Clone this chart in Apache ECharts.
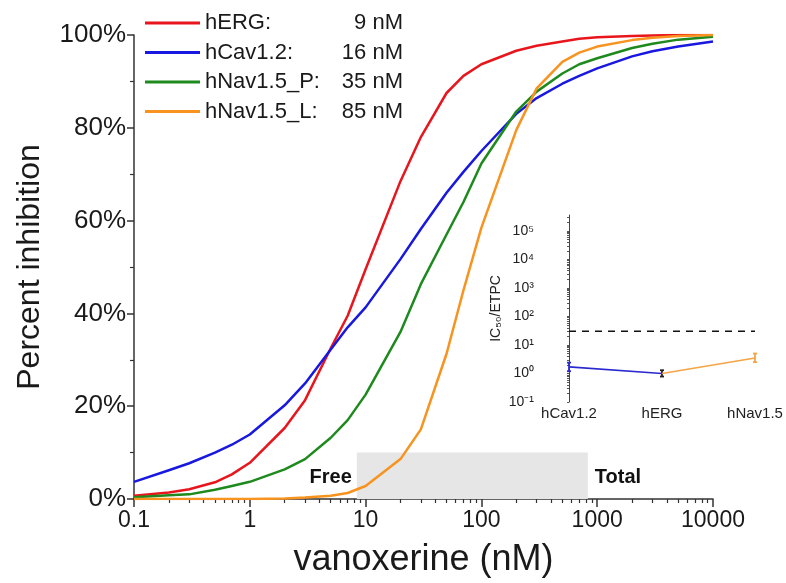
<!DOCTYPE html>
<html><head><meta charset="utf-8">
<script src="https://cdn.jsdelivr.net/npm/echarts@6/dist/echarts.min.js"></script>
<style>html,body{margin:0;padding:0;background:#fff}#c{width:786px;height:583px}</style>
</head><body><div id="c"></div><script>
// ---- data ----
const conc  = [0.1,0.2,0.3,0.5,0.7,1,2,3,5,7,10,20,30,50,70,100,200,300,500,700,1000,2000,3000,5000,10000];
const hERG  = [0.7,1.4,2.1,3.6,5.3,7.8,15.3,21.3,32.5,39.5,49.5,68.5,78,87.5,91.2,93.7,96.6,97.7,98.6,99.2,99.5,99.8,99.9,100,100];
const hCav  = [3.7,6.2,7.7,10.0,11.7,13.9,20.2,24.9,32.2,37.0,41.3,51.7,58.2,66.0,70.5,75,83,86.4,89.5,91.2,92.8,95.4,96.5,97.5,98.6];
const hNavP = [0.4,0.8,1.0,2.0,2.8,3.7,6.4,8.6,13.2,17,22.5,36,46.3,57,64,72.3,83.5,87.8,91.7,93.7,95,97.2,98.1,99.0,99.6];
const hNavL = [0,0,0,0,0,0,0.1,0.3,0.7,1.3,2.8,8.6,15,31.3,45,58.5,79.5,88.5,94.2,96.2,97.5,98.9,99.4,99.8,100];
const seriesNames  = ['hERG','hCav1.2','hNav1.5_P','hNav1.5_L'];
const legendLabels = ['hERG:','hCav1.2:','hNav1.5_P:','hNav1.5_L:'];
const ic50Labels   = ['9 nM','16 nM','35 nM','85 nM'];
const xTicks      = [0.1,1,10,100,1000,10000];
const xTickLabels = ['0.1','1','10','100','1000','10000'];
const concRange   = [8.4, 830];   // shaded Free .. Total range (nM)
const shadeTop    = 10;           // % height of shaded band
const rangeLabelY = 4.7;          // % level of "Free"/"Total" text
// inset
const insetCats  = ['hCav1.2','hERG','hNav1.5'];
const insetPos   = [0, 1, 2];
const insetVals  = [1.7, 1.0, 3.5];
const insetLow   = [1.2, 0.78, 2.5];
const insetHigh  = [2.4, 1.3, 5.0];
const safetyLine = 30;
const insetTicks = [0.1,1,10,100,1000,10000,100000];

// ---- chart ----
const FONT = '"Liberation Sans", Arial, sans-serif';
const colors = ['#e8161c','#1818e0','#1e8a1e','#f7931e'];
const insetBlue = '#2a2ad0', insetOrange = '#f5a446';
const sup = {'-':'⁻','0':'⁰','1':'¹','2':'²','3':'³','4':'⁴','5':'⁵','6':'⁶','7':'⁷','8':'⁸','9':'⁹'};
const near = (a,b)=>Math.abs(Math.log10(a)-Math.log10(b))<1e-6;
const minorTicks = [];
[0.1,1,10,100,1000].forEach(d=>{for(let k=2;k<=9;k++) minorTicks.push(+(d*k).toPrecision(3));});
const insetMinor = [];
[0.1,1,10,100,1000,10000,100000].forEach(d=>{for(let k=1;k<=9;k++){const v=+(d*k).toPrecision(3); if(v<=360000) insetMinor.push(v);}});

const chart = echarts.init(document.getElementById('c'));
const curveSeries = [hERG,hCav,hNavP,hNavL].map((arr,i)=>({
  type:'line', name:seriesNames[i], xAxisIndex:0, yAxisIndex:0, z:3,
  data: conc.map((c,j)=>[c,arr[j]]), showSymbol:false, symbol:'none', smooth:false,
  lineStyle:{width:2.5, color:colors[i], join:'round'}, itemStyle:{color:colors[i]}
}));
const axisCol = '#333';
const option = {
  animation:false, backgroundColor:'#fff',
  textStyle:{fontFamily:FONT},
  grid:[{left:134, top:35, width:579, height:465},
        {left:539, top:215, width:241, height:187}],
  legend:{orient:'vertical', left:140, top:7, itemWidth:55, itemHeight:3, itemGap:7.5, icon:'rect',
    data:seriesNames,
    formatter: n=>{const i=seriesNames.indexOf(n); return '{a|'+legendLabels[i]+'}{b|'+ic50Labels[i]+'}';},
    textStyle:{fontFamily:FONT, color:'#1a1a1a', fontSize:22,
      rich:{a:{fontFamily:FONT,fontSize:22,width:120,lineHeight:22,color:'#1a1a1a'},
            b:{fontFamily:FONT,fontSize:22,width:78,align:'right',lineHeight:22,color:'#1a1a1a'}}}},
  xAxis:[
    {type:'log', logBase:10, min:0.1, max:10000, gridIndex:0, position:'bottom',
     axisLine:{show:true, lineStyle:{color:axisCol, width:1.5}},
     axisTick:{show:true, length:8, customValues:xTicks, lineStyle:{color:axisCol, width:1.5}},
     axisLabel:{customValues:xTicks, fontSize:23, color:'#1a1a1a', margin:10, fontFamily:FONT,
       formatter:v=>{const i=xTicks.findIndex(t=>near(t,v)); return i>=0?xTickLabels[i]:'';}},
     splitLine:{show:false},
     name:'vanoxerine (nM)', nameLocation:'middle', nameGap:43,
     nameTextStyle:{fontSize:36, color:'#1a1a1a', fontFamily:FONT, verticalAlign:'top'}},
    {type:'log', logBase:10, min:0.1, max:10000, gridIndex:0, position:'bottom',
     axisLine:{show:false}, axisLabel:{show:false}, splitLine:{show:false},
     axisTick:{show:true, length:4, customValues:minorTicks, lineStyle:{color:axisCol, width:1.2}}},
    {type:'value', gridIndex:1, min:-0.3226, max:2.269, position:'bottom',
     axisLine:{show:false}, axisTick:{show:false}, splitLine:{show:false},
     axisLabel:{customValues:insetPos, fontSize:15, color:'#222', margin:4, fontFamily:FONT,
       formatter:v=>{const i=insetPos.findIndex(p=>Math.abs(p-v)<1e-6); return i>=0?insetCats[i]:'';}}}
  ],
  yAxis:[
    {type:'value', gridIndex:0, min:0, max:100, interval:20,
     axisLine:{show:true, lineStyle:{color:axisCol, width:1.5}},
     axisTick:{show:true, length:7, lineStyle:{color:axisCol, width:1.5}},
     minorTick:{show:true, splitNumber:2, length:4, lineStyle:{color:axisCol, width:1.2}},
     splitLine:{show:false}, minorSplitLine:{show:false},
     axisLabel:{formatter:'{value}%', fontSize:26, color:'#1a1a1a', margin:8, fontFamily:FONT},
     name:'Percent inhibition', nameLocation:'middle', nameGap:88,
     nameTextStyle:{fontSize:32, color:'#1a1a1a', fontFamily:FONT}},
    {type:'log', logBase:10, gridIndex:1, min:0.1, max:360000,
     axisLine:{show:true, lineStyle:{color:'#444', width:1}},
     axisTick:{show:true, length:2, customValues:insetMinor, lineStyle:{color:'#555', width:1}},
     axisLabel:{customValues:insetTicks, fontSize:14, color:'#222', margin:5, fontFamily:FONT,
       formatter:v=>{const e=Math.round(Math.log10(v)); return '10'+String(e).split('').map(ch=>sup[ch]).join('');}},
     splitLine:{show:false},
     name:'IC₅₀/ETPC', nameLocation:'middle', nameGap:36,
     nameTextStyle:{fontSize:14, color:'#222', fontFamily:FONT}}
  ],
  series:[
    {type:'line', name:'_range', xAxisIndex:0, yAxisIndex:0, data:[], z:1, silent:true,
     markArea:{silent:true, itemStyle:{color:'#e6e6e6'},
       data:[[{xAxis:concRange[0], yAxis:0},{xAxis:concRange[1], yAxis:shadeTop}]]},
     markPoint:{silent:true, symbol:'rect', symbolSize:0,
       label:{show:true, fontFamily:FONT, fontWeight:'bold', fontSize:20, color:'#111'},
       data:[{coord:[concRange[0], rangeLabelY], value:'Free', label:{position:'left', distance:5, formatter:'Free'}},
             {coord:[concRange[1], rangeLabelY], value:'Total', label:{position:'right', distance:7, formatter:'Total'}}]}},
    ...curveSeries,
    {type:'line', xAxisIndex:2, yAxisIndex:1, data:insetPos.map(p=>[p,safetyLine]), symbol:'none',
     lineStyle:{color:'#111', width:1.5, type:[7,6]}, silent:true},
    {type:'line', xAxisIndex:2, yAxisIndex:1, data:[[insetPos[0],insetVals[0]],[insetPos[1],insetVals[1]]], symbol:'none',
     lineStyle:{color:insetBlue, width:1.6}, silent:true},
    {type:'line', xAxisIndex:2, yAxisIndex:1, data:[[insetPos[1],insetVals[1]],[insetPos[2],insetVals[2]]], symbol:'none',
     lineStyle:{color:insetOrange, width:1.6}, silent:true},
    {type:'custom', xAxisIndex:2, yAxisIndex:1, silent:true,
     data: insetPos.map((p,i)=>[p, insetLow[i], insetHigh[i]]),
     renderItem:(params, api)=>{
       const x=api.value(0);
       const p1=api.coord([x, api.value(1)]), p2=api.coord([x, api.value(2)]);
       const col=[insetBlue,'#222',insetOrange][params.dataIndex];
       const st={stroke:col, lineWidth:1.8};
       return {type:'group', children:[
         {type:'line', shape:{x1:p1[0],y1:p1[1],x2:p2[0],y2:p2[1]}, style:st},
         {type:'line', shape:{x1:p1[0]-2,y1:p1[1],x2:p1[0]+2,y2:p1[1]}, style:st},
         {type:'line', shape:{x1:p2[0]-2,y1:p2[1],x2:p2[0]+2,y2:p2[1]}, style:st}
       ]};
     }}
  ]
};
chart.setOption(option);
</script></body></html>
